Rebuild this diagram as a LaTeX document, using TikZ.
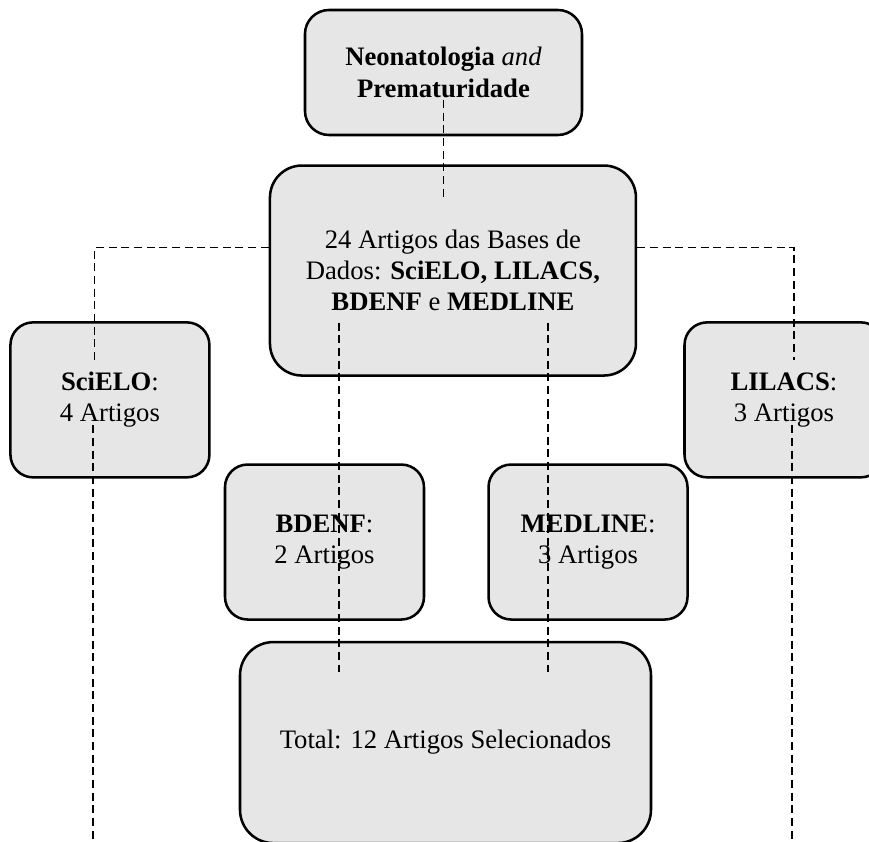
\documentclass[tikz,border=0pt]{standalone}
\usepackage{fontspec}
\setmainfont{Liberation Serif}
\usepackage{xcolor}
\usepackage{tikz}
\usetikzlibrary{positioning, calc}
\definecolor{boxgray}{RGB}{230, 230, 230}
\tikzset{
    base/.style={draw=black, line width=1.9pt, align=center, font=\fontsize{20}{23.5}\selectfont, fill=boxgray, inner sep=2pt},
    topbox/.style={base, rectangle, rounded corners=18pt, minimum width=207.75pt, minimum height=93.75pt},
    mainbox/.style={base, rectangle, rounded corners=24pt, minimum width=274.5pt, minimum height=157.5pt},
    dbbox/.style={base, rectangle, rounded corners=17pt, minimum width=149.25pt, minimum height=116.25pt},
    totalbox/.style={base, rectangle, rounded corners=25pt, minimum width=308.25pt, minimum height=150.75pt},
    link/.style={line width=1.4pt, dash pattern=on 6pt off 3.5pt}
}

\begin{document}
\begin{tikzpicture}

% Page
\coordinate (nw) at (-332.625pt, 54.375pt);
\coordinate (se) at (319.125pt, -577.125pt);
\useasboundingbox (nw) rectangle (se);

% Nodes
\node[topbox] (theme) {\textbf{Neonatologia} \textit{and}\\\textbf{Prematuridade}};
\node[mainbox, below=21pt of theme, xshift=7.1pt] (bases) {24 Artigos das Bases de\\Dados: \textbf{SciELO, LILACS,}\\\textbf{BDENF} e \textbf{MEDLINE}};
\node[dbbox, left=43.5pt of bases, yshift=-97pt] (scielo) {\textbf{SciELO}:\\4 Artigos};
\node[dbbox, right=34.5pt of bases, yshift=-97pt] (lilacs) {\textbf{LILACS}:\\3 Artigos};
\node[totalbox, below=198pt of bases, xshift=-5.6pt] (total) {Total: 12 Artigos Selecionados};
\node[dbbox, above=15pt of total, xshift=-90.75pt] (bdenf) {\textbf{BDENF}:\\2 Artigos};
\node[dbbox, right=46.5pt of bdenf] (medline) {\textbf{MEDLINE}:\\3 Artigos};

% Links
\draw[link] ([yshift=-20.6pt]theme.center) -- ($(theme.center |- bases.north)+(0,-27.75pt)$);
\draw[link] ([yshift=17.25pt]bases.west) -| ([xshift=-11.6pt, yshift=29.6pt]scielo.center);
\draw[link] ([yshift=17.25pt]bases.east) -| ([xshift=7.5pt, yshift=29.6pt]lilacs.center);
\draw[link] ([xshift=-13pt, yshift=-19pt]scielo.center) -- ($(scielo.center |- se)+(-13pt,0)$);
\draw[link] ([xshift=6pt, yshift=-19pt]lilacs.center) -- ($(lilacs.center |- se)+(6pt,0)$);
\draw[link] ([xshift=-85.5pt, yshift=-39pt]bases.center) -- ($(bases.center |- total.north)+(-85.5pt,-23.25pt)$);
\draw[link] ([xshift=71.25pt, yshift=-39pt]bases.center) -- ($(bases.center |- total.north)+(71.25pt,-23.25pt)$);

\end{tikzpicture}
\end{document}
